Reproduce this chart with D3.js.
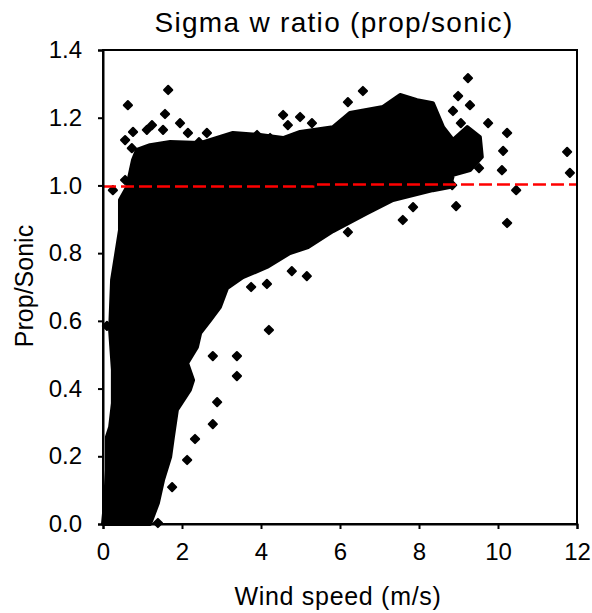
<!DOCTYPE html>
<html>
<head>
<meta charset="utf-8">
<script src="https://cdn.jsdelivr.net/npm/d3@7"></script>
<style>
  body { margin: 0; background: #fff; }
  svg text { font-family: "Liberation Sans", Arial, sans-serif; fill: #000; }
</style>
</head>
<body>
<div id="chart"></div>
<script>
// outline of the dense point cloud (wind speed, ratio)
const cloudX = [0, 0.05, 0.10, 0.10, 0.18, 0.25, 0.25, 0.18, 0.23, 0.43, 0.43, 0.61, 0.76, 0.86,
  1.19, 1.70, 2.46, 3.29, 3.97, 4.56, 4.99, 5.82, 6.25, 7.09, 7.52, 7.95, 8.35, 8.61, 8.86, 9.22, 9.54, 9.59, 9.29, 8.86, 8.78,
  8.35, 7.34, 6.68, 5.82, 5.19, 4.73, 4.15, 3.54, 3.14, 2.96, 2.71, 2.46, 2.38, 2.13, 2.28, 2.20,
  1.87, 1.77, 1.70, 1.52, 1.39, 1.19];
const cloudY = [0, 0.062, 0.159, 0.257, 0.286, 0.357, 0.455, 0.573, 0.721, 0.868, 0.957, 0.995, 1.075, 1.105,
  1.119, 1.128, 1.125, 1.155, 1.149, 1.140, 1.158, 1.172, 1.214, 1.232, 1.267, 1.252, 1.243, 1.172, 1.134, 1.172, 1.143, 1.084, 1.045, 1.031, 0.995,
  0.986, 0.957, 0.918, 0.865, 0.818, 0.800, 0.759, 0.729, 0.697, 0.641, 0.602, 0.564, 0.523, 0.475, 0.425, 0.396,
  0.337, 0.257, 0.198, 0.130, 0.062, 0];

// scattered points outside the cloud
const pointX = [1.65, 0.63, 1.57, 1.95, 1.24, 0.76, 2.63, 0.56, 0.73, 0.56, 0.25, 2.43, 1.52, 1.11, 2.15,
  6.58, 6.20, 4.56, 4.99, 5.29, 4.68, 3.90, 4.23, 7.85, 7.59, 6.20,
  9.24, 8.99, 9.29, 8.86, 9.06, 9.75, 10.23, 10.13, 10.10, 9.52, 10.46, 10.23, 11.75, 11.82, 8.94, 8.84,
  5.16, 4.78, 4.15, 3.75, 4.20, 2.78, 3.39, 3.39, 2.89, 2.78, 2.33, 2.13, 1.75, 1.39, 0.10];
const pointY = [1.282, 1.237, 1.211, 1.184, 1.178, 1.158, 1.155, 1.134, 1.110, 1.016, 0.986, 1.128, 1.164, 1.164, 1.155,
  1.279, 1.246, 1.208, 1.202, 1.184, 1.178, 1.149, 1.140, 0.936, 0.898, 0.862,
  1.317, 1.264, 1.237, 1.220, 1.184, 1.184, 1.155, 1.102, 1.045, 1.051, 0.986, 0.889, 1.099, 1.037, 0.939, 1.001,
  0.732, 0.747, 0.709, 0.700, 0.573, 0.496, 0.496, 0.437, 0.360, 0.295, 0.251, 0.189, 0.109, 0.003, 0.585];

// red reference line
const refX = [0, 5.32, 5.32, 12];
const refY = [0.997, 0.997, 1.003, 1.003];

const xTicks = [0, 2, 4, 6, 8, 10, 12];
const yTicks = [0, 0.2, 0.4, 0.6, 0.8, 1.0, 1.2, 1.4];

function renderChart() {
  const width = 592;
  const height = 613;
  const margin = { top: 50, right: 15, bottom: 89, left: 103 };

  const svg = d3.select('#chart').append('svg')
    .attr('width', width)
    .attr('height', height);

  const x = d3.scaleLinear().domain([0, 12]).range([margin.left, width - margin.right]);
  const y = d3.scaleLinear().domain([0, 1.4]).range([height - margin.bottom, margin.top]);

  const cloud = cloudX.map((d, i) => [d, cloudY[i]]);
  const line = d3.line().x(d => x(d[0])).y(d => y(d[1]));

  svg.append('path')
    .datum(cloud)
    .attr('d', line.curve(d3.curveLinearClosed))
    .attr('fill', '#000')
    .attr('stroke', '#000')
    .attr('stroke-width', 4)
    .attr('stroke-linejoin', 'round');

  // markers: rounded diamonds (squares turned 45 degrees)
  const points = pointX.map((d, i) => [d, pointY[i]]);
  svg.append('g')
    .selectAll('path')
    .data(points)
    .enter().append('path')
    .attr('d', d3.symbol().type(d3.symbolSquare).size(34))
    .attr('transform', d => `translate(${x(d[0])},${y(d[1])}) rotate(45)`)
    .attr('fill', '#000')
    .attr('stroke', '#000')
    .attr('stroke-width', 2)
    .attr('stroke-linejoin', 'round');

  const ref = refX.map((d, i) => [d, refY[i]]);
  svg.append('path')
    .datum(ref)
    .attr('d', d3.line().x(d => x(d[0])).y(d => y(d[1])))
    .attr('fill', 'none')
    .attr('stroke', '#ff0000')
    .attr('stroke-width', 2.5)
    .attr('stroke-dasharray', '13,5');

  // frame
  svg.append('rect')
    .attr('x', margin.left)
    .attr('y', margin.top)
    .attr('width', width - margin.left - margin.right)
    .attr('height', height - margin.top - margin.bottom)
    .attr('fill', 'none')
    .attr('stroke', '#000')
    .attr('stroke-width', 2);

  const xAxis = svg.append('g')
    .attr('transform', `translate(0,${height - margin.bottom})`)
    .call(d3.axisBottom(x).tickValues(xTicks).tickFormat(d3.format('d')).tickSize(5).tickPadding(14));

  const yAxis = svg.append('g')
    .attr('transform', `translate(${margin.left},0)`)
    .call(d3.axisLeft(y).tickValues(yTicks).tickFormat(d3.format('.1f')).tickSize(5).tickPadding(16));

  [xAxis, yAxis].forEach(a => {
    a.select('.domain').attr('stroke-width', 2);
    a.selectAll('.tick line').attr('stroke-width', 2);
    a.selectAll('.tick text').attr('font-size', 24).attr('font-family', '"Liberation Sans", Arial, sans-serif');
  });

  svg.append('text')
    .attr('x', 334)
    .attr('y', 32)
    .attr('text-anchor', 'middle')
    .attr('font-size', 28)
    .attr('letter-spacing', 1.3)
    .text('Sigma w ratio (prop/sonic)');

  svg.append('text')
    .attr('x', 338)
    .attr('y', 605)
    .attr('text-anchor', 'middle')
    .attr('font-size', 25)
    .attr('letter-spacing', 0.7)
    .text('Wind speed (m/s)');

  svg.append('text')
    .attr('transform', 'translate(33,286) rotate(-90)')
    .attr('text-anchor', 'middle')
    .attr('font-size', 25)
    .text('Prop/Sonic');
}

renderChart();
</script>
</body>
</html>
